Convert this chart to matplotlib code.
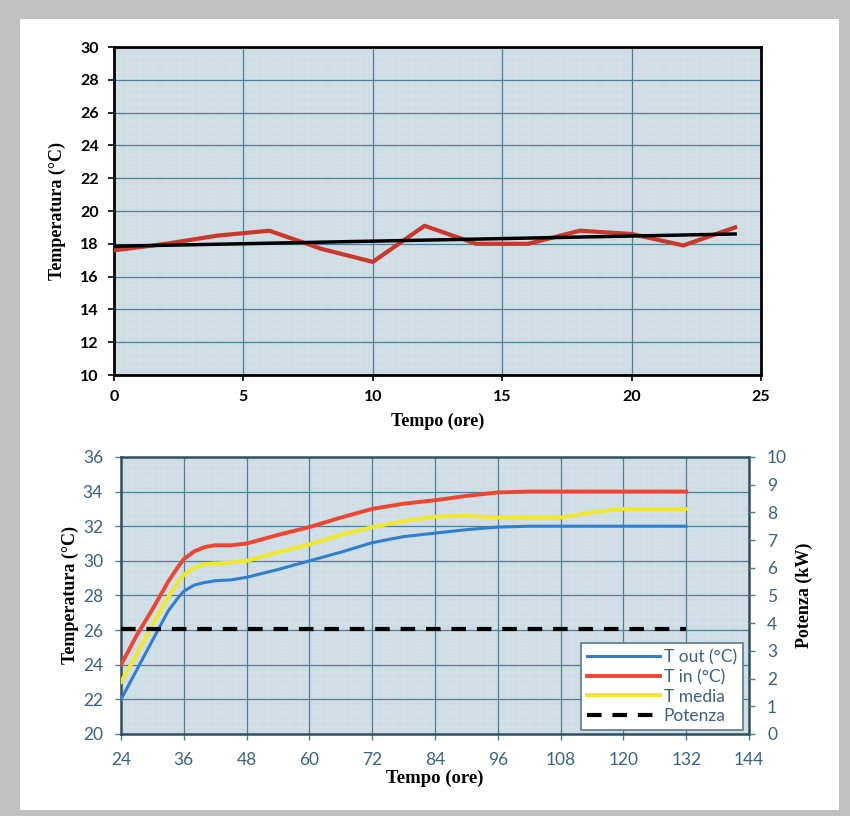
import numpy as np
import matplotlib
matplotlib.use("Agg")
import matplotlib.pyplot as plt
from matplotlib.patches import Rectangle
from matplotlib.lines import Line2D

# --- top chart: temperature over 24 h ---
ore_top = [0, 2, 4, 6, 8, 10, 12, 14, 16, 18, 20, 22, 24]
temp_top = [17.6, 18.0, 18.5, 18.8, 17.7, 16.9, 19.1, 18.0, 18.0, 18.8, 18.6, 17.9, 19.0]
trend_ore = [0, 24]
trend_temp = [17.85, 18.6]

# --- bottom chart: test from 24 h to 132 h ---
ore_bot = [24, 27, 30, 33, 35, 36, 38, 40, 42, 45, 48, 54, 60, 66, 72, 78, 84, 90, 96, 102, 108, 114, 120, 126, 132]
t_out = [22.0, 23.7, 25.4, 27.1, 27.9, 28.25, 28.6, 28.75, 28.85, 28.9, 29.05, 29.5, 30.0, 30.5, 31.05, 31.4, 31.6, 31.8, 31.95, 32.0, 32.0, 32.0, 32.0, 32.0, 32.0]
t_in = [24.0, 25.7, 27.2, 28.8, 29.7, 30.1, 30.55, 30.8, 30.9, 30.9, 31.0, 31.5, 31.95, 32.5, 33.0, 33.3, 33.5, 33.75, 33.95, 34.0, 34.0, 34.0, 34.0, 34.0, 34.0]
t_media = [23.0, 24.6, 26.3, 27.9, 28.8, 29.2, 29.6, 29.8, 29.85, 29.9, 30.0, 30.5, 30.95, 31.5, 31.95, 32.3, 32.55, 32.6, 32.5, 32.5, 32.5, 32.8, 33.0, 33.0, 33.0]
potenza_ore = [24, 132]
potenza_kw = [3.8, 3.8]

SERIF = "Liberation Serif"
SANS = "Lato"
BG = "#cfdde5"
GRID = "#4f7f98"
MINOR = "#d9e4ea"
TICKC = "#3a6282"


def draw_grid(ax, xmaj, ymaj, xmin, ymin):
    # faint graph-paper minor grid, then the darker major grid on top
    for x in xmin:
        ax.axvline(x, color=MINOR, lw=0.5, zorder=0.3)
    for y in ymin:
        ax.axhline(y, color=MINOR, lw=0.5, zorder=0.3)
    for x in xmaj:
        ax.axvline(x, color=GRID, lw=0.9, zorder=0.6)
    for y in ymaj:
        ax.axhline(y, color=GRID, lw=0.9, zorder=0.6)


fig = plt.figure(figsize=(8.5, 8.16), dpi=100, facecolor="#c0c0c0")
fig.patches.append(Rectangle((20 / 850, 6 / 816), 819 / 850, 791 / 816,
                             transform=fig.transFigure, facecolor="white",
                             edgecolor="none", zorder=-10))

# ---------- top ----------
ax1 = fig.add_axes([0.1341, 0.5404, 0.7612, 0.402])
ax1.set_facecolor(BG)
ax1.plot(ore_top, temp_top, color="#cc372b", lw=3, zorder=3)
ax1.plot(trend_ore, trend_temp, color="black", lw=2.5, zorder=4)
ax1.set_xlim(0, 25)
ax1.set_ylim(10, 30)
ax1.set_xticks(range(0, 26, 5))
ax1.set_yticks(range(10, 31, 2))
draw_grid(ax1, range(5, 25, 5), range(12, 30, 2),
          np.arange(0.5, 25, 0.5), np.arange(10.5, 30, 0.5))
ax1.tick_params(which="major", length=4, width=1.2, labelsize=11.5, pad=7)
for lab in ax1.get_xticklabels() + ax1.get_yticklabels():
    lab.set_fontfamily(SANS)
    lab.set_fontweight("bold")
for s in ax1.spines.values():
    s.set_linewidth(2)
    s.set_color("black")
ax1.set_xlabel("Tempo (ore)", fontfamily=SERIF, fontweight="bold", fontsize=13, labelpad=6)
ax1.set_ylabel("Temperatura (°C)", fontfamily=SERIF, fontweight="bold", fontsize=13, labelpad=10)

# ---------- bottom ----------
ax2 = fig.add_axes([0.1424, 0.1005, 0.7388, 0.3395])
ax2.set_facecolor(BG)
ax2.plot(ore_bot, t_out, color="#2f7fd0", lw=2.2, zorder=3)
ax2.plot(ore_bot, t_in, color="#ee4530", lw=2.8, zorder=3)
ax2.plot(ore_bot, t_media, color="#f2e82a", lw=2.8, zorder=3)
ax2.set_xlim(24, 144)
ax2.set_ylim(20, 36)
ax2.set_xticks(range(24, 145, 12))
ax2.set_yticks(range(20, 37, 2))
draw_grid(ax2, range(36, 144, 12), range(22, 36, 2),
          np.arange(26, 144, 2), np.arange(20.4, 36, 0.4))
ax2.tick_params(which="major", length=4, width=1, labelsize=12.5, pad=9,
                labelcolor=TICKC, color=GRID)
for lab in ax2.get_xticklabels() + ax2.get_yticklabels():
    lab.set_fontfamily(SANS)
for s in ax2.spines.values():
    s.set_linewidth(1.8)
    s.set_color("#2f4f5f")
ax2.set_xlabel("Tempo (ore)", fontfamily=SERIF, fontweight="bold", fontsize=13.5, labelpad=1)
ax2.set_ylabel("Temperatura (°C)", fontfamily=SERIF, fontweight="bold", fontsize=13, labelpad=3)

ax3 = ax2.twinx()
ax3.plot(potenza_ore, potenza_kw, color="black", lw=3, dashes=(3.5, 2.6), zorder=4)
ax3.set_ylim(0, 10)
ax3.set_yticks(range(0, 11))
ax3.tick_params(length=4, width=1, labelsize=12.5, pad=9, labelcolor=TICKC, color=GRID)
for lab in ax3.get_yticklabels():
    lab.set_fontfamily(SANS)
for s in ax3.spines.values():
    s.set_visible(False)
ax3.set_ylabel("Potenza (kW)", fontfamily=SERIF, fontweight="bold", fontsize=13, labelpad=6)

handles = [
    Line2D([], [], color="#2f7fd0", lw=2.2),
    Line2D([], [], color="#ee4530", lw=2.8),
    Line2D([], [], color="#f2e82a", lw=2.8),
    Line2D([], [], color="black", lw=3, dashes=(3.5, 2.6)),
]
leg = ax3.legend(handles, ["T out (°C)", "T in (°C)", "T media", "Potenza"],
                 loc="lower right", bbox_to_anchor=(0.99, 0.014), fancybox=False,
                 framealpha=1, edgecolor="#5a7a8a", handlelength=4.2, handletextpad=0.2,
                 labelspacing=0.2, borderpad=0.35, borderaxespad=0,
                 prop={"family": SANS, "size": 12.5})
leg.get_frame().set_linewidth(1.2)
leg._legend_box.align = "left"
for t in leg.get_texts():
    t.set_color(TICKC)

fig.savefig("out.png", dpi=100, facecolor=fig.get_facecolor())
